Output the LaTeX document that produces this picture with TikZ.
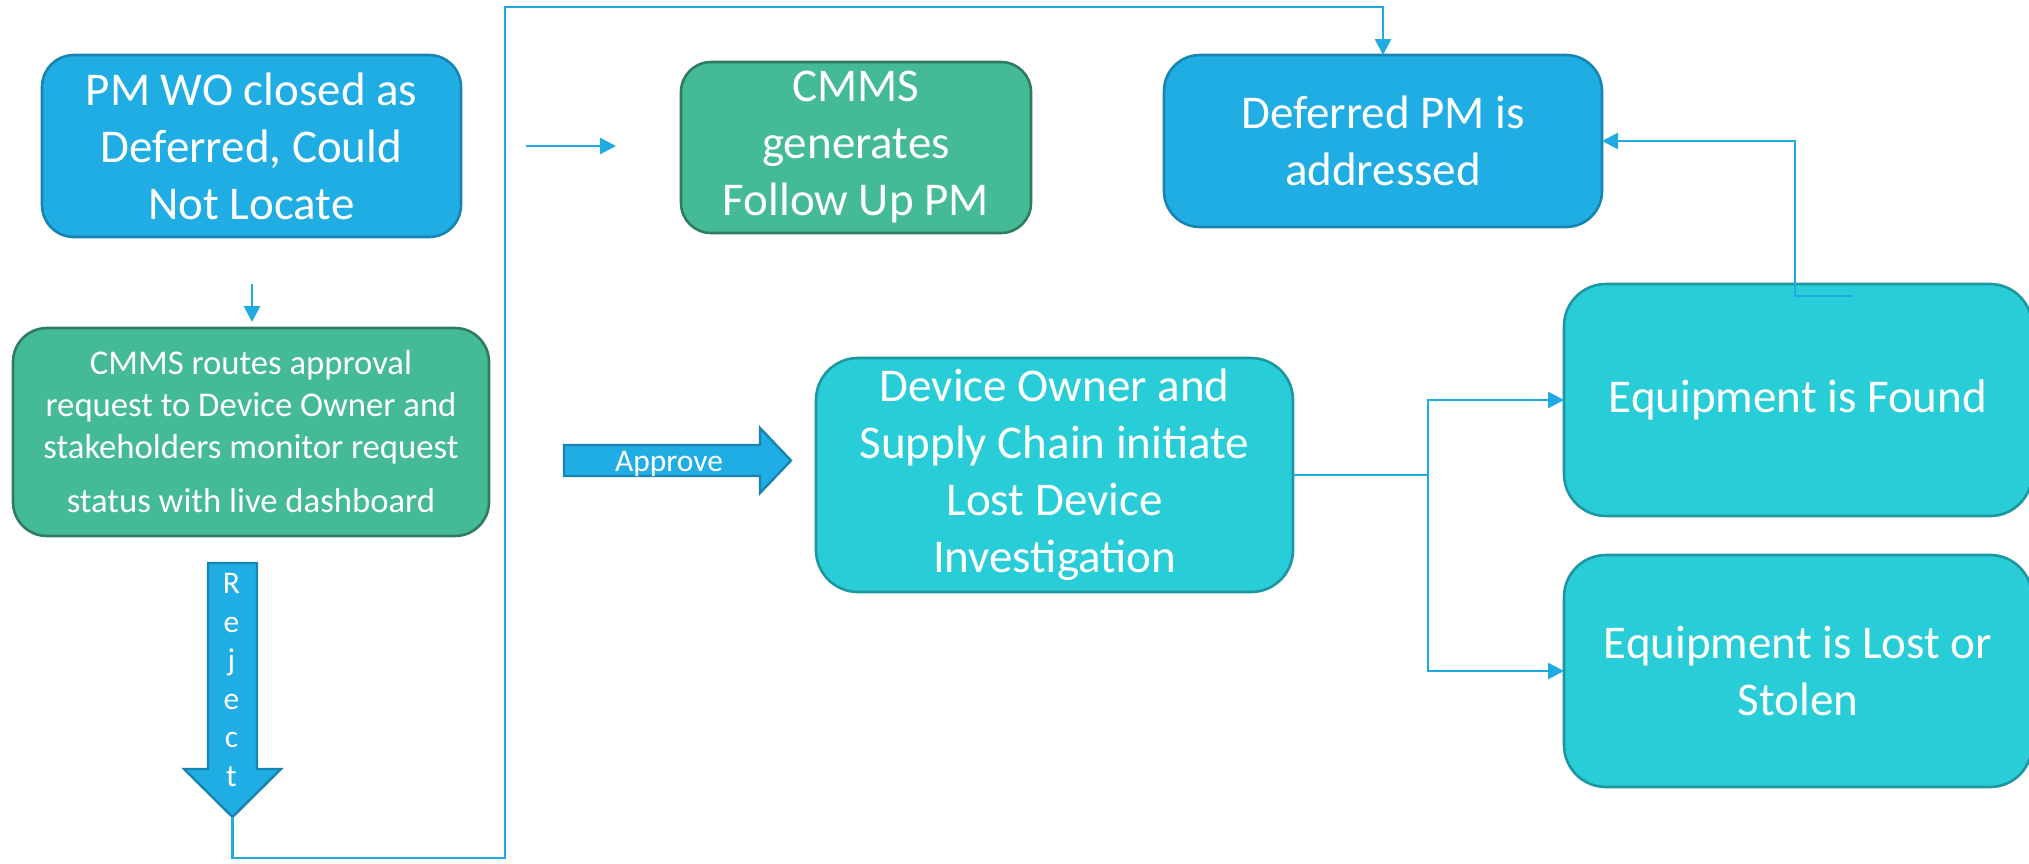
\documentclass[tikz,border=0pt]{standalone}
\usepackage{fontspec}
\setmainfont{Carlito}
\usetikzlibrary{arrows.meta}

\definecolor{blueFill}{RGB}{31,173,228}
\definecolor{blueEdge}{RGB}{24,132,178}
\definecolor{greenFill}{RGB}{68,186,151}
\definecolor{greenEdge}{RGB}{46,124,100}
\definecolor{tealFill}{RGB}{41,205,216}
\definecolor{tealEdge}{RGB}{28,150,160}
\definecolor{wire}{RGB}{31,170,226}

\tikzset{
  box/.style={draw, line width=2.6pt, rounded corners=#1, inner sep=0pt, outer sep=0pt,
    align=center, text=white, font=\fontsize{47}{57}\selectfont},
  bluebox/.style={box=32pt, fill=blueFill, draw=blueEdge},
  greenbox/.style={box=34pt, fill=greenFill, draw=greenEdge},
  tealbox/.style={box=42pt, fill=tealFill, draw=tealEdge},
  conn/.style={draw=wire, line width=2.8pt},
  tip/.style={-{Triangle[length=16pt,width=16pt]}},
  blockarrow/.style={fill=blueFill, draw=blueEdge, line width=2.4pt, line join=miter},
  arrowtext/.style={text=white, align=center, font=\fontsize{31.5}{38.5}\selectfont, inner sep=0pt}
}

\begin{document}
\begin{tikzpicture}[x=1pt, y=-1pt]
  \useasboundingbox (0,0) rectangle (2029,863);

  % process boxes
  \node[bluebox, minimum width=419pt, minimum height=182pt] (closed) at (251.5,146)
    {PM WO closed as\\Deferred, Could\\Not Locate};
  \node[greenbox, minimum width=476pt, minimum height=208pt, font=\fontsize{34.7}{42}\selectfont] (routes) at (251,432)
    {CMMS routes approval\\request to Device Owner and\\stakeholders monitor request\\[12pt]status with live dashboard};
  \node[greenbox, rounded corners=30pt, minimum width=350pt, minimum height=171pt] (followup) at (856,147.5)
    {CMMS\\generates\\Follow Up PM};
  \node[bluebox, rounded corners=36pt, minimum width=438pt, minimum height=172pt] (deferred) at (1383,141)
    {Deferred PM is\\addressed};
  \node[tealbox, minimum width=477pt, minimum height=234pt] (investigate) at (1054.5,475)
    {Device Owner and\\Supply Chain initiate\\Lost Device\\Investigation};
  \node[tealbox, minimum width=468pt, minimum height=232pt] (found) at (1798,400)
    {Equipment is Found};
  \node[tealbox, minimum width=468pt, minimum height=232pt] (lost) at (1798,671)
    {Equipment is Lost or\\Stolen};

  % short loose arrows
  \coordinate (downA) at (252,284);
  \coordinate (downB) at (252,322);
  \draw[conn, tip] (downA) -- (downB);
  \coordinate (rightA) at (526,146);
  \coordinate (rightB) at (616,146);
  \draw[conn, tip] (rightA) -- (rightB);

  % Reject block arrow
  \draw[blockarrow] (208,563) -- (257,563) -- (257,769) -- (281,769) -- (232.5,817)
    -- (184,769) -- (208,769) -- cycle;
  \node[arrowtext] (reject) at (231.5,680) {R\\e\\j\\e\\c\\t};
  \coordinate (rejtip) at (232.5,817);

  % Approve block arrow
  \draw[blockarrow] (564,445) -- (760,445) -- (760,428) -- (791,460.5) -- (760,493)
    -- (760,476) -- (564,476) -- cycle;
  \node[arrowtext] (approve) at (669,464) {Approve};

  % connectors
  \draw[conn, tip] (rejtip) -- ++(0,41) -| (505,7) -| (deferred.north);
  \coordinate (split) at (1428,475);
  \draw[conn, tip] (investigate.east) -- (split) |- (found.west);
  \draw[conn, tip] (split) |- (lost.west);
  \coordinate (foundstub) at (1853,296);
  \draw[conn, tip] (foundstub) -- (1795,296) |- (deferred.east);
\end{tikzpicture}
\end{document}
